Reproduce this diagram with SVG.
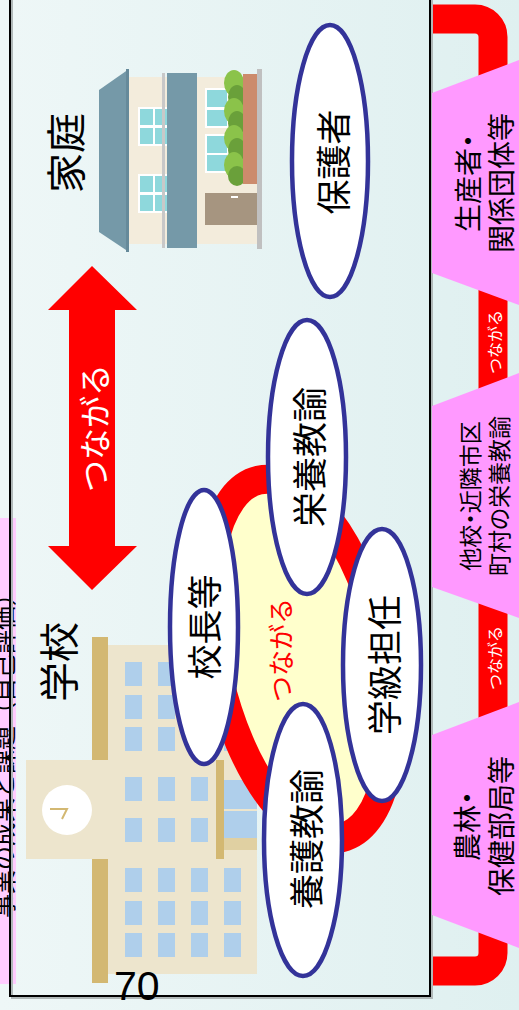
<svg xmlns="http://www.w3.org/2000/svg" width="519" height="1010" viewBox="0 0 519 1010">
<defs>
  <linearGradient id="bg" x1="0" y1="0" x2="1" y2="0">
    <stop offset="0" stop-color="#eef7f7"/>
    <stop offset="1" stop-color="#dff0f0"/>
  </linearGradient>
  <clipPath id="stripClip"><rect x="0" y="518" width="16" height="466"/></clipPath>
  <style>
    text{font-family:"Noto Sans CJK JP","Noto Sans",sans-serif;text-anchor:middle;dominant-baseline:central}
    .role{fill:#fff;stroke:#333399;stroke-width:4.5}
    .lbl{font-size:35px;fill:#000}
    .org{fill:#ff99ff}
    .orgt{font-size:28px;fill:#000;font-feature-settings:"palt"}
    .win{fill:#afcfeb}
    .tan{fill:#d3b872}
    .cream{fill:#ede5cd}
    .pane{fill:#8ed8dc}
    .wf{fill:#fff}
    .slate{fill:#7599a8}
    .link{fill:#fff;font-size:16px}
    .leaf1{fill:#8bc34a}
    .leaf2{fill:#6aa03a}
  </style>
</defs>

<!-- background -->
<rect x="0" y="0" width="519" height="1010" fill="url(#bg)"/>

<!-- side note strip, running off the left edge -->
<g id="note">
  <rect x="0" y="518" width="16" height="466" fill="#ffccff"/>
  <g clip-path="url(#stripClip)">
    <text transform="translate(2,750) rotate(-90)" font-size="24" fill="#000">事業の成果と課題（自己評価）</text>
  </g>
</g>

<!-- connectors -->
<g id="connectors">
  <!-- outer bracket linking the partner organisations -->
  <path d="M430,19 H475 A18,18 0 0 1 493,37 V953 A18,18 0 0 1 475,971 H430" fill="none" stroke="#ff0000" stroke-width="29"/>
  <!-- school / home double arrow -->
  <polygon points="92,266 137,310 115,310 115,546 137,546 92,590 48,546 69,546 69,310 48,310" fill="#ff0000"/>
  <text class="link" style="font-size:32px" transform="translate(93,428) rotate(-90)">つながる</text>
  <text class="link" transform="translate(494,342) rotate(-90)">つながる</text>
  <text class="link" transform="translate(494,658) rotate(-90)">つながる</text>
</g>

<!-- frame -->
<rect x="12" y="-5" width="420" height="1003" fill="none" stroke="#b0b8b8" stroke-width="2"/>
<rect x="10" y="-5" width="420" height="1001" fill="none" stroke="#000" stroke-width="2"/>

<!-- partner organisations -->
<g id="org-producers">
  <polygon class="org" points="432,93 519,60 519,305 432,273"/>
  <text class="orgt" transform="translate(467,183) rotate(-90)">生産者・</text>
  <text class="orgt" transform="translate(500,183) rotate(-90)">関係団体等</text>
</g>
<g id="org-schools">
  <polygon class="org" points="432,406 519,373 519,618 432,587"/>
  <text class="orgt" style="font-size:23px" transform="translate(469,496) rotate(-90)">他校・近隣市区</text>
  <text class="orgt" style="font-size:23px" transform="translate(498,496) rotate(-90)">町村の栄養教諭</text>
</g>
<g id="org-agencies">
  <polygon class="org" points="432,735 519,702 519,948 432,915"/>
  <text class="orgt" transform="translate(466,826) rotate(-90)">農林・</text>
  <text class="orgt" transform="translate(500,826) rotate(-90)">保健部局等</text>
</g>

<!-- home -->
<g id="home">
  <text transform="translate(64,153) rotate(-90)" font-size="40" fill="#000">家庭</text>
  <polygon class="slate" points="99,90 129,69 129,252 99,232"/>
  <rect x="126" y="69" width="3" height="183" fill="#668a9a"/>
  <rect x="129" y="77" width="128" height="167" fill="#f3ecdc"/>
  <rect class="wf" x="138" y="107" width="30" height="39"/>
  <rect class="pane" x="140" y="109" width="13" height="16"/>
  <rect class="pane" x="155" y="109" width="12" height="16"/>
  <rect class="pane" x="140" y="128" width="13" height="16"/>
  <rect class="pane" x="155" y="128" width="12" height="16"/>
  <rect class="wf" x="138" y="174" width="30" height="39"/>
  <rect class="pane" x="140" y="176" width="13" height="16"/>
  <rect class="pane" x="155" y="176" width="12" height="16"/>
  <rect class="pane" x="140" y="195" width="13" height="16"/>
  <rect class="pane" x="155" y="195" width="12" height="16"/>
  <rect x="162" y="73" width="3" height="175" fill="#c8c8c8"/>
  <rect class="slate" x="167" y="73" width="30" height="175"/>
  <rect class="wf" x="205" y="88" width="24" height="40"/>
  <rect class="pane" x="207" y="90" width="20" height="17"/>
  <rect class="pane" x="207" y="110" width="20" height="16"/>
  <rect class="wf" x="205" y="134" width="24" height="39"/>
  <rect class="pane" x="207" y="136" width="20" height="17"/>
  <rect class="pane" x="207" y="155" width="20" height="16"/>
  <ellipse class="leaf1" cx="234" cy="83" rx="10" ry="13"/>
  <ellipse class="leaf2" cx="237" cy="97" rx="9" ry="12"/>
  <ellipse class="leaf1" cx="234" cy="111" rx="10" ry="13"/>
  <ellipse class="leaf2" cx="237" cy="123" rx="9" ry="12"/>
  <ellipse class="leaf1" cx="234" cy="138" rx="10" ry="13"/>
  <ellipse class="leaf2" cx="237" cy="150" rx="9" ry="12"/>
  <ellipse class="leaf1" cx="234" cy="165" rx="10" ry="13"/>
  <ellipse class="leaf2" cx="237" cy="176" rx="9" ry="10"/>
  <rect x="243" y="74" width="14" height="110" fill="#cc8b6c"/>
  <rect x="205" y="193" width="52" height="32" fill="#a69580"/>
  <rect x="231" y="196" width="7" height="2" fill="#fff"/>
  <rect x="257" y="69" width="5" height="180" fill="#c0c0c0"/>
</g>

<!-- school -->
<g id="school">
  <text transform="translate(57,662) rotate(-90)" font-size="40" fill="#000">学校</text>
  <rect class="cream" x="108" y="645" width="149" height="329"/>
  <rect class="tan" x="92" y="637" width="16" height="123"/>
  <rect class="tan" x="92" y="859" width="16" height="124"/>
  <rect class="cream" x="26" y="760" width="190" height="99"/>
  <rect class="tan" x="216" y="760" width="8" height="99"/>
  <circle cx="67" cy="810" r="25" fill="#fff"/>
  <polyline points="50,809 67,809 62,819" fill="none" stroke="#d3b872" stroke-width="2"/>
  <g class="win">
    <rect x="125" y="662" width="17" height="24"/><rect x="158" y="662" width="17" height="24"/><rect x="191" y="662" width="17" height="24"/><rect x="224" y="662" width="17" height="24"/>
    <rect x="125" y="695" width="17" height="24"/><rect x="158" y="695" width="17" height="24"/><rect x="191" y="695" width="17" height="24"/><rect x="224" y="695" width="17" height="24"/>
    <rect x="125" y="727" width="17" height="24"/><rect x="158" y="727" width="17" height="24"/><rect x="191" y="727" width="17" height="24"/><rect x="224" y="727" width="17" height="24"/>
    <rect x="125" y="777" width="17" height="24"/><rect x="158" y="777" width="17" height="24"/><rect x="191" y="777" width="17" height="24"/>
    <rect x="125" y="818" width="17" height="24"/><rect x="158" y="818" width="17" height="24"/><rect x="191" y="818" width="17" height="24"/>
    <rect x="125" y="868" width="17" height="24"/><rect x="158" y="868" width="17" height="24"/><rect x="191" y="868" width="17" height="24"/><rect x="224" y="868" width="17" height="24"/>
    <rect x="125" y="901" width="17" height="24"/><rect x="158" y="901" width="17" height="24"/><rect x="191" y="901" width="17" height="24"/><rect x="224" y="901" width="17" height="24"/>
    <rect x="125" y="933" width="17" height="24"/><rect x="158" y="933" width="17" height="24"/><rect x="191" y="933" width="17" height="24"/><rect x="224" y="933" width="17" height="24"/>
    <rect x="224" y="780" width="33" height="29"/>
    <rect x="224" y="811" width="33" height="27"/>
  </g>
  <rect x="224" y="838" width="33" height="12" fill="#e0d0a2"/>
</g>

<!-- staff circle -->
<g id="staff-ring">
  <ellipse cx="300" cy="659" rx="83.5" ry="183.5" transform="rotate(-13 300 659)" fill="#ffffcc" stroke="#ff0000" stroke-width="29"/>
  <text transform="translate(279,650) rotate(-90)" font-size="26" fill="#ff0000">つながる</text>
</g>

<g id="guardian">
  <ellipse class="role" cx="330" cy="161" rx="38" ry="136"/>
  <text class="lbl" transform="translate(331,162) rotate(-90)">保護者</text>
</g>
<g id="principal">
  <ellipse class="role" cx="204" cy="627" rx="34" ry="137"/>
  <text class="lbl" transform="translate(202,627) rotate(-90)">校長等</text>
</g>
<g id="nutrition-teacher">
  <ellipse class="role" cx="307" cy="457" rx="39" ry="137"/>
  <text class="lbl" transform="translate(307,457) rotate(-90)">栄養教諭</text>
</g>
<g id="class-teacher">
  <ellipse class="role" cx="382" cy="665" rx="39" ry="136"/>
  <text class="lbl" transform="translate(382,665) rotate(-90)">学級担任</text>
</g>
<g id="school-nurse">
  <ellipse class="role" cx="303" cy="840" rx="39" ry="136"/>
  <text class="lbl" transform="translate(304,839) rotate(-90)">養護教諭</text>
</g>

<!-- page number -->
<text x="114" y="1000" style="font-family:'Liberation Sans',Arial,sans-serif;text-anchor:start;dominant-baseline:alphabetic" font-size="41" fill="#000">70</text>
</svg>
